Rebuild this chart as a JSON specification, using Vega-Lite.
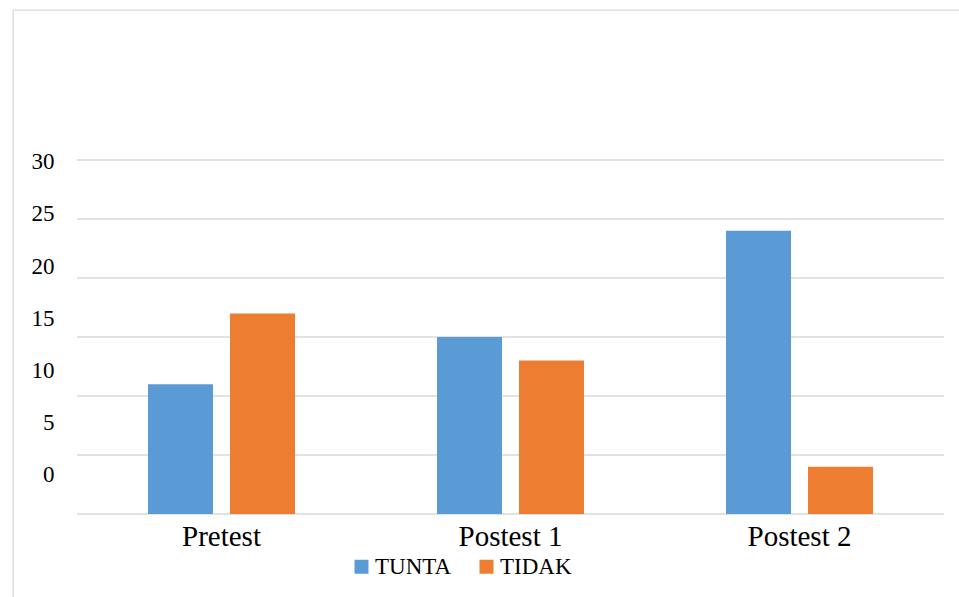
{
  "$schema": "https://vega.github.io/schema/vega-lite/v6.json",
  "width": 950,
  "height": 590,
  "autosize": "none",
  "padding": {"left": 13, "top": 10, "right": 0, "bottom": 0},
  "background": "white",
  "config": {"view": {"stroke": "#D9D9D9", "strokeWidth": 1.3}, "font": "Liberation Serif"},
  "layer": [
    {
      "data": {"values": [{"v": 0}, {"v": 5}, {"v": 10}, {"v": 15}, {"v": 20}, {"v": 25}, {"v": 30}]},
      "mark": {"type": "rule", "color": "#D9D9D9", "strokeWidth": 1.5},
      "encoding": {
        "y": {"field": "v", "type": "quantitative", "scale": {"domain": [-7.288, 42.712], "nice": false, "zero": false}, "axis": null},
        "x": {"datum": 0, "type": "quantitative", "scale": {"domain": [-0.07382, 1.02191], "nice": false, "zero": false}, "axis": null},
        "x2": {"datum": 1}
      }
    },
    {
      "data": {"values": [{"v": 0}, {"v": 5}, {"v": 10}, {"v": 15}, {"v": 20}, {"v": 25}, {"v": 30}]},
      "mark": {"type": "point", "opacity": 0},
      "encoding": {
        "y": {
          "field": "v", "type": "quantitative",
          "scale": {"domain": [-11.97, 44.526], "nice": false, "zero": false},
          "axis": {"orient": "left", "values": [0, 5, 10, 15, 20, 25, 30], "offset": -43, "labelPadding": 2, "ticks": false, "tickSize": 0, "domain": false, "grid": false, "labelFont": "Liberation Serif", "labelFontSize": 23, "labelColor": "#000000", "title": null}
        }
      }
    },
    {
      "data": {"values": [
        {"test": "Pretest", "status": "TUNTA", "value": 11},
        {"test": "Pretest", "status": "TIDAK", "value": 17},
        {"test": "Postest 1", "status": "TUNTA", "value": 15},
        {"test": "Postest 1", "status": "TIDAK", "value": 13},
        {"test": "Postest 2", "status": "TUNTA", "value": 24},
        {"test": "Postest 2", "status": "TIDAK", "value": 4}
      ]},
      "mark": {"type": "bar"},
      "encoding": {
        "x": {
          "field": "test", "type": "nominal", "sort": ["Pretest", "Postest 1", "Postest 2"],
          "scale": {"paddingInner": 0.49135, "paddingOuter": 0.38927, "align": 0.6},
          "axis": {"title": null, "orient": "bottom", "offset": -55, "labelPadding": 0, "labelBaseline": "alphabetic", "ticks": false, "tickSize": 0, "domain": false, "grid": false, "labelAngle": 0, "labelFontSize": 29, "labelFont": "Liberation Serif", "labelColor": "#000000"}
        },
        "xOffset": {"field": "status", "type": "nominal", "sort": ["TUNTA", "TIDAK"], "scale": {"paddingInner": 0.2073, "paddingOuter": 0}},
        "y": {"field": "value", "type": "quantitative", "stack": null, "scale": {"domain": [-7.288, 42.712], "nice": false, "zero": false}, "axis": null},
        "y2": {"datum": 0},
        "color": {
          "field": "status", "type": "nominal", "sort": ["TUNTA", "TIDAK"],
          "scale": {"domain": ["TUNTA", "TIDAK"], "range": ["#5B9BD5", "#ED7D31"]},
          "legend": {"orient": "none", "legendX": 337, "legendY": 545, "direction": "horizontal", "title": null, "symbolType": "square", "symbolSize": 196, "symbolStrokeWidth": 0, "symbolOpacity": 1, "labelFont": "Liberation Serif", "labelFontSize": 23, "labelColor": "#000000", "labelOffset": 2, "columnPadding": 23, "padding": 0}
        }
      }
    }
  ],
  "resolve": {"scale": {"x": "independent", "y": "independent"}, "axis": {"x": "independent", "y": "independent"}}
}
